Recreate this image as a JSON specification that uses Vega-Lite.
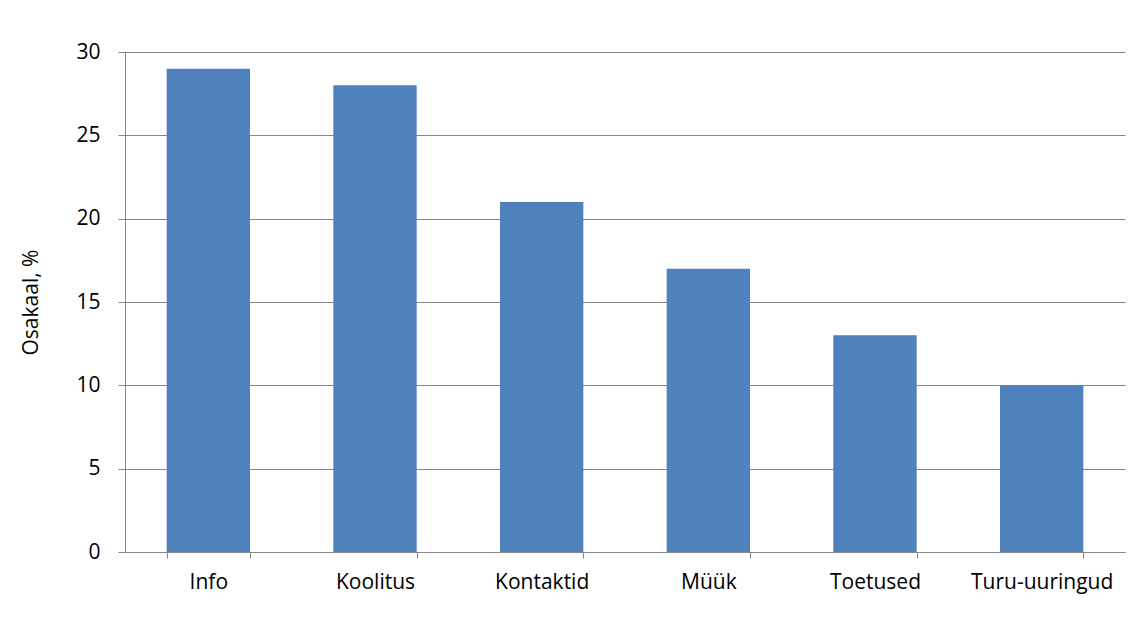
{
  "$schema": "https://vega.github.io/schema/vega-lite/v6.json",
  "width": 1000,
  "height": 500,
  "autosize": {"type": "none"},
  "padding": {"left": 125, "top": 52, "right": 21, "bottom": 91},
  "background": "white",
  "data": {"values": [
    {"kategooria": "Info", "osakaal": 29},
    {"kategooria": "Koolitus", "osakaal": 28},
    {"kategooria": "Kontaktid", "osakaal": 21},
    {"kategooria": "Müük", "osakaal": 17},
    {"kategooria": "Toetused", "osakaal": 13},
    {"kategooria": "Turu-uuringud", "osakaal": 10}
  ]},
  "mark": {"type": "bar", "color": "#4F81BD"},
  "encoding": {
    "x": {
      "field": "kategooria", "type": "nominal", "sort": null,
      "scale": {"paddingInner": 0.5, "paddingOuter": 0.25},
      "axis": {"title": null, "labelAngle": 0, "bandPosition": 0, "tickBand": "extent",
        "tickSize": 6, "labelPadding": 13, "labelFontSize": 21, "labelFont": "Open Sans",
        "labelColor": "#000000", "domainColor": "#868686", "tickColor": "#868686", "grid": false}
    },
    "y": {
      "field": "osakaal", "type": "quantitative",
      "scale": {"domain": [0, 30], "nice": false},
      "axis": {"title": "Osakaal, %", "values": [0, 5, 10, 15, 20, 25, 30], "tickSize": 7,
        "labelPadding": 18, "labelFontSize": 21, "labelFont": "Open Sans", "labelColor": "#000000",
        "titleFont": "Open Sans", "titleFontSize": 21, "titleFontWeight": "normal", "titleColor": "#000000",
        "titlePadding": 34, "domainColor": "#868686", "tickColor": "#868686",
        "gridColor": "#868686", "gridWidth": 1}
    }
  },
  "config": {"view": {"stroke": null}}
}
